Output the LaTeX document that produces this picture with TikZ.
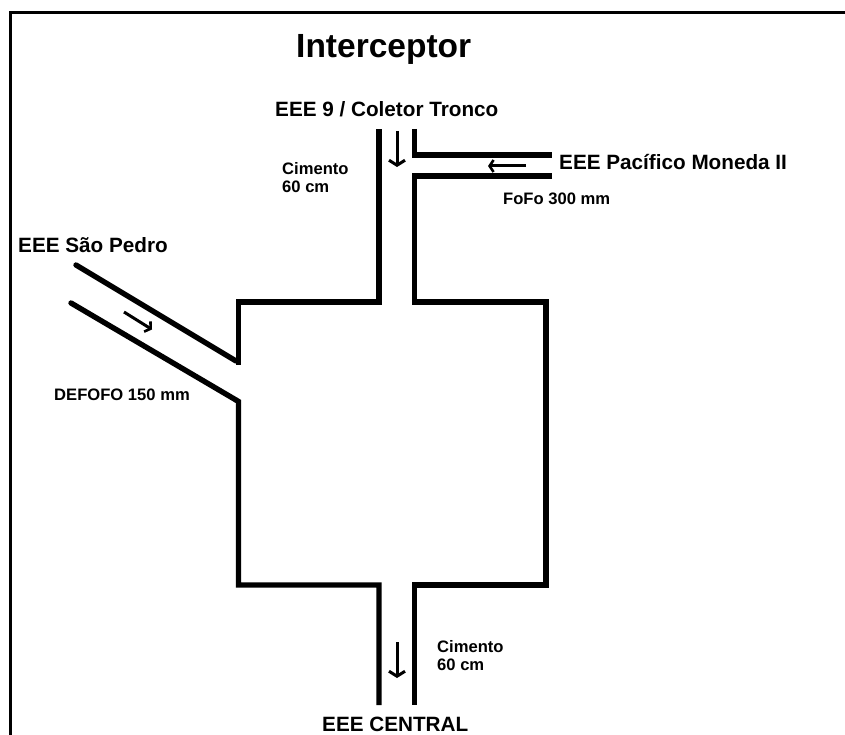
\documentclass[tikz,border=0pt]{standalone}
\usepackage{fontspec}
\setmainfont{Liberation Sans}
\usetikzlibrary{arrows.meta}
\tikzset{
  wall/.style={line width=5.4pt,line cap=butt,line join=miter,black},
  flow/.style={line width=3pt,black,-{Straight Barb[length=5pt,width=16pt,line width=3pt]}},
  flownarrow/.style={line width=3pt,black,-{Straight Barb[length=4pt,width=12pt,line width=2.6pt]}},
  lbl/.style={inner sep=0pt,anchor=base west,text=black},
  big/.style={lbl,font=\fontsize{20.7}{23}\selectfont\bfseries},
  small/.style={lbl,font=\fontsize{16.6}{18}\selectfont\bfseries},
}
\begin{document}
\begin{tikzpicture}[x=1pt,y=-1pt]
\useasboundingbox (0,0) rectangle (845,735);
\draw[line width=3.2pt] (10.5,735) -- (10.5,12.5) -- (845,12.5);
% vessel and inlets
\draw[wall,line cap=round] (76,265) -- (236,361);
\draw[wall,line cap=round] (71,303) -- (236,400);
\draw[wall] (236,362) -- (238.5,362) -- (238.5,302) -- (379,302) -- (379,129);
\draw[wall] (236,400) -- (238.5,401.5) -- (238.5,585) -- (379,585) -- (379,705);
\draw[wall] (414.5,129) -- (414.5,155) -- (552,155);
\draw[wall] (552,176) -- (414.5,176) -- (414.5,302) -- (546,302) -- (546,585) -- (414.5,585) -- (414.5,705);
% flow arrows
\coordinate (a1s) at (397,131); \coordinate (a1e) at (397,167);
\coordinate (a2s) at (526,166); \coordinate (a2e) at (488,166);
\coordinate (a3s) at (124,312); \coordinate (a3e) at (152,329.5);
\coordinate (a4s) at (397,642); \coordinate (a4e) at (397,678);
\draw[flow] (a1s) -- (a1e);
\draw[flownarrow] (a2s) -- (a2e);
\draw[flownarrow] (a3s) -- (a3e);
\draw[flow] (a4s) -- (a4e);
% labels
\node[lbl,font=\fontsize{33.5}{36}\selectfont\bfseries] (title) at (296,58) {Interceptor};
\node[big] (top) at (275,116.5) {EEE 9 / Coletor Tronco};
\node[big] (pac) at (559,170) {EEE Pacífico Moneda II};
\node[big] (sp) at (18,252) {EEE São Pedro};
\node[big] (cen) at (322,731) {EEE CENTRAL};
\node[small] (c1) at (282,175) {Cimento};
\node[small] (c1b) at (282,193) {60 cm};
\node[small] (c2) at (437,652) {Cimento};
\node[small] (c2b) at (437,670) {60 cm};
\node[small] (fofo) at (503,205) {FoFo 300 mm};
\node[small] (def) at (54,400) {DEFOFO 150 mm};
\end{tikzpicture}
\end{document}
